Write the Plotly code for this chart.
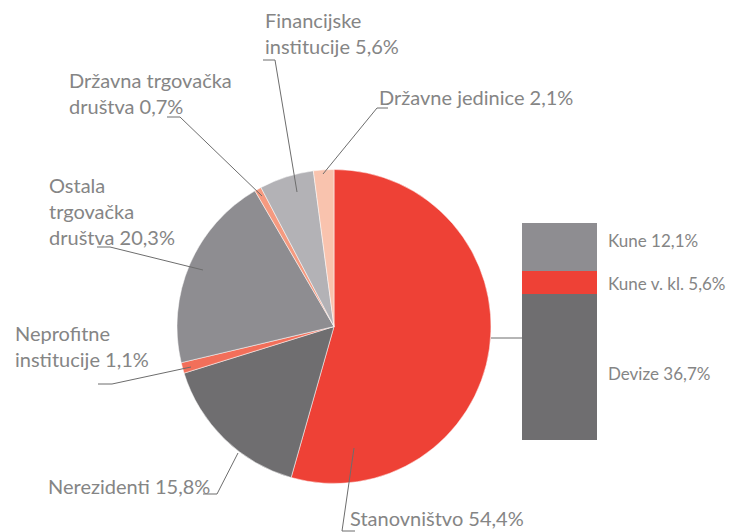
import plotly.graph_objects as go

# pie data (clockwise from 12 o'clock)
sectors = ["Stanovništvo", "Nerezidenti", "Neprofitne institucije", "Ostala trgovačka društva",
           "Državna trgovačka društva", "Financijske institucije", "Državne jedinice"]
shares = [54.4, 15.8, 1.1, 20.3, 0.7, 5.6, 2.1]
sector_labels = ["Stanovništvo 54,4%", "Nerezidenti 15,8%", "Neprofitne<br>institucije 1,1%",
                 "Ostala<br>trgovačka<br>društva 20,3%", "Državna trgovačka<br>društva 0,7%",
                 "Financijske<br>institucije 5,6%", "Državne jedinice 2,1%"]

# breakdown of Stanovništvo (bottom to top)
parts = ["Devize", "Kune v. kl.", "Kune"]
part_shares = [36.7, 5.6, 12.1]
part_labels = ["Devize 36,7%", "Kune v. kl. 5,6%", "Kune 12,1%"]

W, H = 736, 532
OFF = 8  # page body margin, the figure sits 8px in from the window corner
sector_colors = ["#ee4136", "#6f6e70", "#f26f5a", "#8e8d91", "#f59a80", "#b3b2b6", "#f9c3ae"]
part_colors = ["#6f6e70", "#ee4136", "#8e8d91"]
TEXT = "#858585"
LINE = "#6d6d6d"


# window pixel -> paper fraction
def px(x):
    return (x - OFF) / (W - OFF)


def py(y):
    return 1 - (y - OFF) / (H - OFF)


# label layout: anchor x, center y (pixels), anchor side, leader polyline
label_pos = [
    (348, 518, "left", [(355, 531), (342, 531), (354, 448)]),
    (212, 486, "right", [(203, 494), (217, 494), (238, 453)]),
    (13, 346, "left", [(98, 384), (112, 384), (191, 367)]),
    (47, 211, "left", [(97, 247), (110, 247), (203, 270)]),
    (67, 93, "left", [(167, 117), (180, 117), (262, 196)]),
    (263, 33, "left", [(263, 60), (275, 60), (297, 192)]),
    (377, 97, "left", [(388, 108), (377, 108), (323, 174)]),
]
part_pos = [(606, 373), (606, 283), (606, 241)]

fig = go.Figure()

fig.add_trace(go.Pie(
    labels=sectors, values=shares, sort=False, direction="clockwise", rotation=0,
    marker=dict(colors=sector_colors, line=dict(color="white", width=0.5)),
    textinfo="none", hoverinfo="skip", showlegend=False,
    domain=dict(x=[px(177), px(491)], y=[py(484), py(169)]),
))

for name, val, col in zip(parts, part_shares, part_colors):
    fig.add_trace(go.Bar(
        x=["Stanovništvo"], y=[val], name=name, marker=dict(color=col, line=dict(width=0)),
        hoverinfo="skip", showlegend=False,
    ))

annotations = []
shapes = []
line_gap = 26
for text, (ax, cy, side, pts) in zip(sector_labels, label_pos):
    lines = text.split("<br>")
    top = cy - line_gap * (len(lines) - 1) / 2
    for i, ln in enumerate(lines):
        annotations.append(dict(
            x=px(ax), y=py(top + i * line_gap), xref="paper", yref="paper", text=ln,
            showarrow=False, xanchor=side, yanchor="middle",
            font=dict(family="Lato", size=20, color=TEXT),
        ))
    path = "M " + " L ".join(f"{px(x)},{py(y)}" for x, y in pts)
    shapes.append(dict(type="path", path=path, xref="paper", yref="paper",
                       line=dict(color=LINE, width=1)))

for text, (ax, cy) in zip(part_labels, part_pos):
    annotations.append(dict(
        x=px(ax), y=py(cy), xref="paper", yref="paper", text=text,
        showarrow=False, xanchor="left", yanchor="middle",
        font=dict(family="Lato", size=17, color=TEXT),
    ))

# connector from pie to the bar
shapes.append(dict(type="line", x0=px(491), x1=px(522), y0=py(338), y1=py(338),
                   xref="paper", yref="paper", line=dict(color=LINE, width=1)))

fig.update_layout(
    width=W - OFF, height=H - OFF, margin=dict(l=0, r=0, t=0, b=0),
    paper_bgcolor="white", plot_bgcolor="white",
    barmode="stack", bargap=0,
    xaxis=dict(domain=[px(522), px(597)], visible=False, fixedrange=True),
    yaxis=dict(domain=[py(440), py(223)], range=[0, sum(part_shares)], visible=False, fixedrange=True),
    annotations=annotations, shapes=shapes,
)

fig.write_html("out.html")
